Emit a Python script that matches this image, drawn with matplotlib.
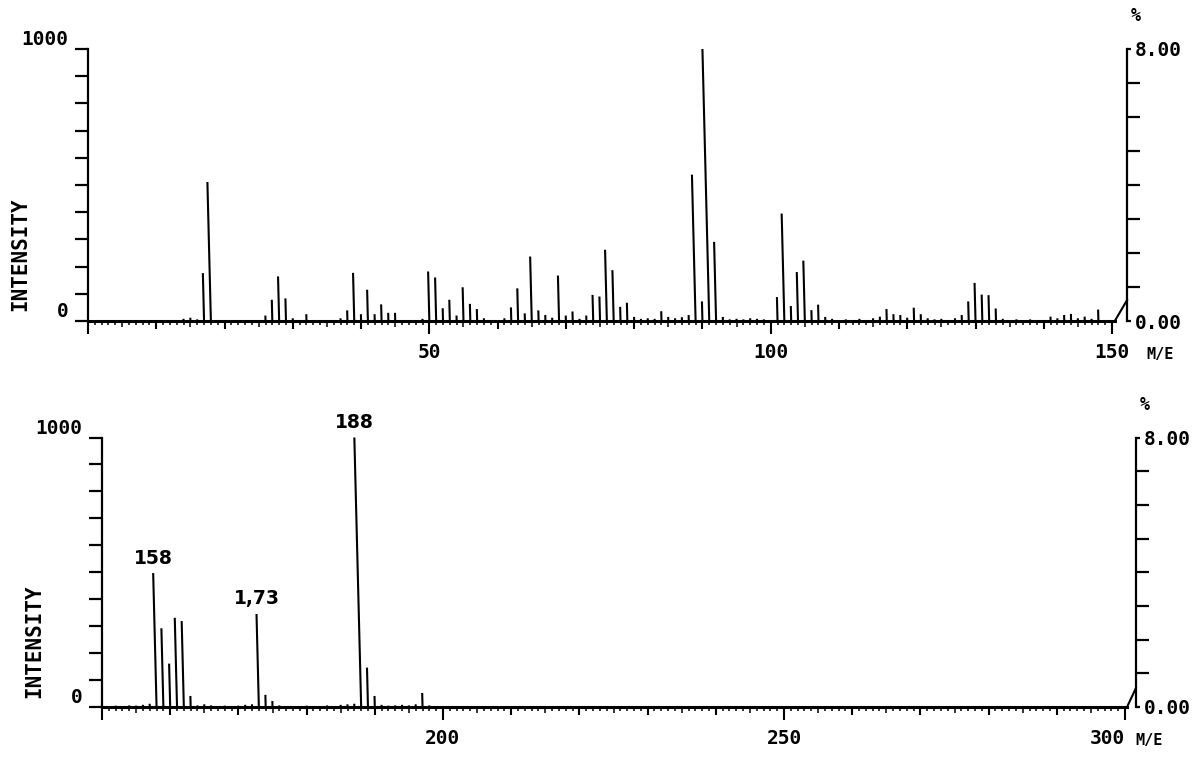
import numpy as np
import matplotlib
matplotlib.use("Agg")
import matplotlib.pyplot as plt
from matplotlib.collections import LineCollection

# mass spectrum (relative intensity, base peak = 1000)
top_mz = [14, 15, 16, 17, 18, 26, 27, 28, 29, 30, 32, 37, 38, 39, 40, 41, 42, 43, 44, 45,
          49, 50, 51, 52, 53, 54, 55, 56, 57, 58, 61, 62, 63, 64, 65, 66, 67, 68, 69, 70,
          71, 72, 73, 74, 75, 76, 77, 78, 79, 80, 81, 82, 83, 84, 85, 86, 87, 88, 89, 90,
          91, 92, 93, 94, 95, 96, 97, 98, 99, 101, 102, 103, 104, 105, 106, 107, 108, 109,
          111, 113, 115, 116, 117, 118, 119, 120, 121, 122, 123, 124, 125, 127, 128, 129,
          130, 131, 132, 133, 134, 136, 138, 141, 142, 143, 144, 145, 146, 147, 148]
top_int = [8, 12, 6, 176, 511, 20, 78, 164, 83, 10, 25, 10, 39, 177, 25, 115, 25, 61, 30, 30,
           8, 182, 160, 47, 78, 20, 124, 63, 44, 10, 10, 50, 120, 28, 237, 39, 22, 12, 167, 20,
           35, 8, 20, 96, 90, 262, 187, 52, 67, 15, 8, 10, 8, 36, 15, 10, 14, 22, 538, 72,
           1000, 291, 15, 6, 8, 6, 10, 8, 6, 88, 395, 55, 180, 222, 40, 60, 15, 8,
           6, 8, 10, 16, 44, 25, 22, 12, 49, 25, 10, 6, 8, 10, 22, 72,
           140, 97, 95, 46, 8, 6, 6, 16, 10, 22, 26, 10, 16, 8, 42]

bottom_mz = [152, 154, 155, 156, 157, 158, 159, 160, 161, 162, 163, 164, 165, 166, 168, 170,
             171, 172, 173, 174, 175, 176, 180, 183, 185, 186, 187, 188, 189, 190, 191, 192,
             193, 194, 195, 196, 197, 198]
bottom_int = [5, 6, 5, 8, 12, 497, 292, 161, 331, 319, 41, 6, 10, 6, 5, 5,
              8, 10, 345, 45, 22, 6, 5, 6, 8, 10, 12, 1000, 146, 41, 8, 5,
              6, 8, 6, 10, 52, 6]

label_mz = [158, 173, 188]
label_txt = ["158", "1,73", "188"]

W, H = 1203, 757
MONO = "DejaVu Sans Mono"
SLANT = 0.001   # pen plotter lag: tops lean a little to the left


def add_panel(fig, px_left, px_zero, px_top, unit_px, xlim, labelled, right_x, break_h):
    width = (xlim[1] - xlim[0]) * unit_px
    ax = fig.add_axes([px_left / W, 1 - px_zero / H, width / W, (px_zero - px_top) / H])
    ax.set_xlim(xlim)
    ax.set_ylim(0, 1000)
    ax.spines["top"].set_visible(False)
    ax.spines["right"].set_visible(False)
    ax.spines["left"].set_linewidth(1.6)
    ax.spines["bottom"].set_linewidth(2.2)

    # intensity axis
    ax.set_yticks(np.arange(0, 1001, 100))
    ax.set_yticklabels(["0"] + [""] * 9 + ["1000"], fontfamily=MONO,
                       fontweight="bold", fontsize=14)
    ax.tick_params(axis="y", direction="out", length=9.4, width=1.6, pad=4.5)
    for lab in ax.get_yticklabels():
        lab.set_verticalalignment("bottom")

    # m/e axis
    start = int(np.ceil(xlim[0]))
    end = int(np.floor(xlim[1]))
    major = np.arange(start, end + 1, 10)
    ax.set_xticks(major)
    ax.set_xticklabels([str(v) if v in labelled else "" for v in major],
                       fontfamily=MONO, fontweight="bold", fontsize=14)
    ax.set_xticks(np.arange(start, end + 1, 1), minor=True)
    ax.tick_params(axis="x", which="major", direction="out", length=5.8, width=1.5, pad=10)
    ax.tick_params(axis="x", which="minor", direction="out", length=2.6, width=1.1)
    for t, v in zip(ax.xaxis.get_major_ticks(), major):
        if v % 50 == 0:
            t.tick1line.set_markersize(9.4)
    for t, v in zip(ax.xaxis.get_minor_ticks(), ax.xaxis.get_minorticklocs()):
        if round(v) % 5 == 0:
            t.tick1line.set_markersize(4.2)

    ax.set_xlabel("M/E", fontfamily=MONO, fontweight="bold", fontsize=11)
    ax.text(-0.066, 0.245, "INTENSITY", transform=ax.transAxes, rotation=90,
            ha="center", va="center", fontfamily=MONO, fontweight="bold", fontsize=15)

    # percent scale on the right, with the little break stroke
    ax2 = ax.twinx()
    ax2.set_ylim(0, 8)
    for s in ["left", "top", "bottom"]:
        ax2.spines[s].set_visible(False)
    ax2.spines["right"].set_position(("data", right_x))
    ax2.spines["right"].set_linewidth(1.6)
    ax2.set_yticks(range(9))
    ax2.set_yticklabels(["0.00"] + [""] * 7 + ["8.00"], fontfamily=MONO,
                        fontweight="bold", fontsize=14)
    ax2.tick_params(axis="y", direction="out", length=9.4, width=1.6, pad=-3.6)
    for t, v in zip(ax2.yaxis.get_major_ticks(), range(9)):
        if v in (0, 8):
            t.tick2line.set_markersize(3)
    ax2.annotate("%", xy=(right_x, 8), xytext=(6.5, 23.5), textcoords="offset points",
                 ha="center", va="center", fontfamily=MONO, fontweight="bold", fontsize=12,
                 annotation_clip=False)
    ax.plot([xlim[1], right_x], [0, break_h], color="black", lw=1.5, clip_on=False)
    return ax


def sticks(ax, mz, inten):
    mz = np.asarray(mz, float)
    inten = np.asarray(inten, float)
    base = np.column_stack([mz, np.zeros_like(mz)])
    tip = np.column_stack([mz - SLANT * inten, inten])
    segs = np.stack([base, tip], axis=1)
    ax.add_collection(LineCollection(segs, colors="black", linewidths=1.5, clip_on=False))


fig = plt.figure(figsize=(W / 100, H / 100), dpi=100)
fig.patch.set_facecolor("white")

ax_top = add_panel(fig, 88, 321, 49, 6.827, (0, 150.4), [50, 100, 150], 152.2, 77)
sticks(ax_top, top_mz, top_int)
ax_top.xaxis.set_label_coords(1.044, -0.096)

ax_bot = add_panel(fig, 102, 707, 437.5, 6.82, (150, 300.3), [200, 250, 300], 301.6, 70)
sticks(ax_bot, bottom_mz, bottom_int)
ax_bot.xaxis.set_label_coords(1.021, -0.096)
ax_bot.get_xticklabels()[-1].set_horizontalalignment("right")

for m, txt in zip(label_mz, label_txt):
    h = bottom_int[bottom_mz.index(m)]
    ax_bot.annotate(txt, xy=(m - SLANT * h, h), xytext=(0, 4), textcoords="offset points",
                    ha="center", va="bottom", fontfamily="DejaVu Sans",
                    fontweight="bold", fontsize=13.5)

fig.savefig("out.png", dpi=100)
